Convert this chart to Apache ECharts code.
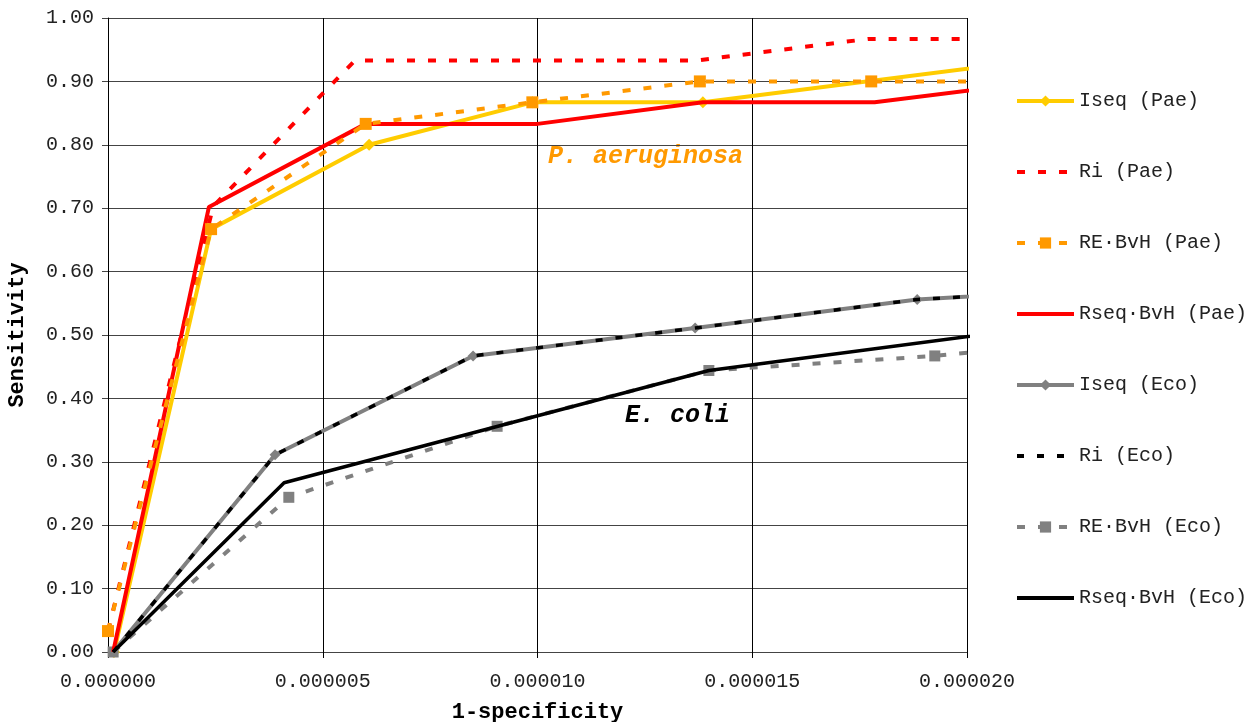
<!DOCTYPE html>
<html>
<head>
<meta charset="utf-8">
<script src="https://cdn.jsdelivr.net/npm/echarts@6/dist/echarts.min.js"></script>
<style>
  html, body { margin: 0; padding: 0; background: #fff; }
  #main { width: 1260px; height: 722px; }
</style>
</head>
<body>
<div id="main"></div>
<script>
(function() {
  var FONT = '"Liberation Mono", "DejaVu Sans Mono", monospace';

  // 1-specificity (x) and sensitivity (y)
  var iseqPaeX = [0.14e-6, 2.4e-6, 6.08e-6, 9.88e-6, 13.85e-6, 22e-6];
  var iseqPaeY = [0, 0.667, 0.800, 0.867, 0.867, 0.937];
  var riPaeX = [0, 2.45e-6, 5.75e-6, 13.7e-6, 17.7e-6, 22e-6];
  var riPaeY = [0.033, 0.703, 0.933, 0.933, 0.967, 0.967];
  var rePaeX = [0, 2.4e-6, 6.0e-6, 9.88e-6, 13.78e-6, 17.77e-6, 22e-6];
  var rePaeY = [0.033, 0.667, 0.833, 0.867, 0.900, 0.900, 0.900];
  var rseqPaeX = [0.12e-6, 2.35e-6, 6.0e-6, 10.0e-6, 13.85e-6, 17.85e-6, 22e-6];
  var rseqPaeY = [0, 0.702, 0.833, 0.833, 0.867, 0.867, 0.902];

  var iseqEcoX = [0.12e-6, 3.89e-6, 8.5e-6, 13.67e-6, 18.84e-6, 22e-6];
  var iseqEcoY = [0, 0.311, 0.467, 0.511, 0.556, 0.568];
  var riEcoX = [0.12e-6, 3.89e-6, 8.5e-6, 13.67e-6, 18.84e-6, 22e-6];
  var riEcoY = [0, 0.311, 0.467, 0.511, 0.556, 0.568];
  var reEcoX = [0.12e-6, 4.21e-6, 9.06e-6, 13.99e-6, 19.25e-6, 22e-6];
  var reEcoY = [0, 0.244, 0.356, 0.444, 0.467, 0.485];
  var rseqEcoX = [0.12e-6, 4.1e-6, 13.99e-6, 22e-6];
  var rseqEcoY = [0, 0.267, 0.444, 0.515];

  var legendNames = ['Iseq (Pae)', 'Ri (Pae)', 'RE·BvH (Pae)', 'Rseq·BvH (Pae)',
                     'Iseq (Eco)', 'Ri (Eco)', 'RE·BvH (Eco)', 'Rseq·BvH (Eco)'];

  function pairs(xs, ys) {
    var out = [];
    for (var i = 0; i < xs.length; i++) {
      out.push([xs[i], ys[i]]);
    }
    return out;
  }

  function line(name, xs, ys, color, opts) {
    return {
      name: name,
      type: 'line',
      data: pairs(xs, ys),
      symbol: opts.symbol || 'circle',
      symbolSize: opts.size || 11,
      showSymbol: !!opts.symbol,
      itemStyle: { color: color },
      lineStyle: { color: color, width: opts.width || 4, type: opts.dash || 'solid', cap: 'butt' },
      z: opts.z || 2,
      animation: false
    };
  }

  // only the Iseq and RE·BvH lines carry markers; hide the symbol for the others
  var legendData = legendNames.map(function(n) {
    if (/^R(i|seq)/.test(n)) {
      return { name: n, itemStyle: { opacity: 0 } };
    }
    return { name: n };
  });

  var myChart = echarts.init(document.getElementById('main'));
  var option = {
    backgroundColor: '#fff',
    textStyle: { fontFamily: FONT },
    grid: { left: 108, right: 293, top: 18, bottom: 70, containLabel: false, outerBoundsMode: 'none' },
    legend: {
      orient: 'vertical',
      left: 1015,
      top: 91,
      padding: 0,
      itemWidth: 57,
      itemHeight: 14,
      itemGap: 51,
      lineStyle: { width: 4 },
      textStyle: { fontFamily: FONT, fontSize: 20, color: '#222' },
      data: legendData
    },
    xAxis: {
      type: 'value',
      min: 0,
      max: 0.00002,
      interval: 0.000005,
      name: '1-specificity',
      nameLocation: 'middle',
      nameGap: 49,
      nameTextStyle: { fontFamily: FONT, fontSize: 22, fontWeight: 'bold', color: '#000' },
      axisLine: { lineStyle: { color: '#444', width: 1 } },
      axisTick: { show: true, length: 6, lineStyle: { color: '#000' } },
      axisLabel: {
        fontFamily: FONT, fontSize: 20, color: '#222', margin: 20,
        formatter: function(v) { return v.toFixed(6); }
      },
      splitLine: { show: true, lineStyle: { color: '#000', width: 1 } }
    },
    yAxis: {
      type: 'value',
      min: 0,
      max: 1,
      interval: 0.1,
      name: 'Sensitivity',
      nameLocation: 'middle',
      nameRotate: 90,
      nameGap: 80,
      nameTextStyle: { fontFamily: FONT, fontSize: 22, fontWeight: 'bold', color: '#000' },
      axisLine: { show: true, lineStyle: { color: '#000', width: 1 } },
      axisTick: { show: true, length: 6, lineStyle: { color: '#444' } },
      axisLabel: {
        fontFamily: FONT, fontSize: 20, color: '#222', margin: 14,
        formatter: function(v) { return v.toFixed(2); }
      },
      splitLine: { show: true, lineStyle: { color: '#444', width: 1 } }
    },
    graphic: [
      {
        type: 'text', left: 548, top: 144,
        style: { text: 'P. aeruginosa', fill: '#FF9900', font: 'italic bold 25px ' + FONT }
      },
      {
        type: 'text', left: 625, top: 403,
        style: { text: 'E. coli', fill: '#000', font: 'italic bold 25px ' + FONT }
      }
    ],
    series: [
      line('Iseq (Pae)', iseqPaeX, iseqPaeY, '#FFCC00', { symbol: 'diamond', size: 12, z: 3 }),
      line('Ri (Pae)', riPaeX, riPaeY, '#FF0000', { dash: [8, 13], z: 4 }),
      line('RE·BvH (Pae)', rePaeX, rePaeY, '#FF9900', { symbol: 'rect', size: 12, dash: [8, 13], z: 5 }),
      line('Rseq·BvH (Pae)', rseqPaeX, rseqPaeY, '#FF0000', { z: 4 }),
      line('Iseq (Eco)', iseqEcoX, iseqEcoY, '#808080', { symbol: 'diamond', size: 11, z: 3 }),
      line('Ri (Eco)', riEcoX, riEcoY, '#000000', { dash: [7, 13], width: 3.5, z: 4 }),
      line('RE·BvH (Eco)', reEcoX, reEcoY, '#808080', { symbol: 'rect', size: 11, dash: [8, 13], z: 3 }),
      line('Rseq·BvH (Eco)', rseqEcoX, rseqEcoY, '#000000', { width: 3.5, z: 4 })
    ]
  };
  myChart.setOption(option);
})();
</script>
</body>
</html>
